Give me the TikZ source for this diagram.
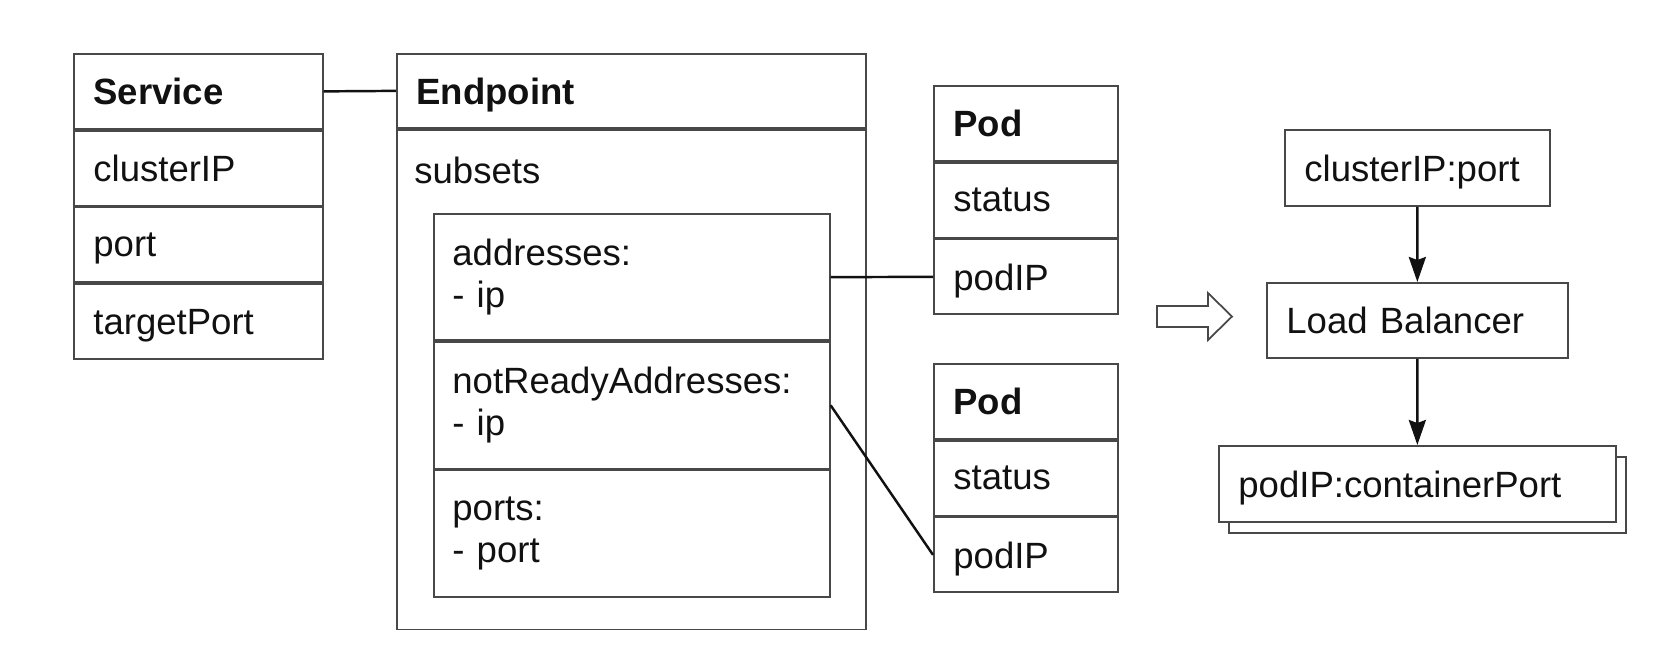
\documentclass[tikz,border=0pt]{standalone}
\usepackage{fontspec}
\setmainfont{Liberation Sans}
\usetikzlibrary{arrows.meta, positioning, shadows}
\definecolor{boxgray}{HTML}{484848}
\definecolor{inkblack}{HTML}{111111}
\newcommand{\boxfont}{\fontsize{20.8}{23.9}\selectfont}

\begin{document}
\begin{tikzpicture}[x=0.02cm, y=-0.02cm,
  >={Stealth[length=5mm, width=3.4mm, inset=0.6mm]},
  box/.style={draw=boxgray, line width=1pt, inner xsep=0.39cm, inner ysep=0pt,
    align=left, font=\boxfont, text=inkblack},
  field/.style={box, text depth=0pt, minimum height=1.5cm},
  title/.style={field, font=\boxfont\bfseries},
  entry/.style={box, inner xsep=0.37cm, text width=7.18cm, minimum height=2.53cm},
  link/.style={inkblack, line width=1.4pt},
  flow/.style={inkblack, line width=1.5pt, ->}]

% Canvas (pixel grid of the reference, y down)
\useasboundingbox (0,0) rectangle (1671,647);

% Service
\node[title, text width=4.2cm, anchor=north west] (svc) at (73,53) {Service};
\node[field, text width=4.2cm, below=0pt of svc] (svcip) {clusterIP};
\node[field, text width=4.2cm, below=0pt of svcip] (svcport) {port};
\node[field, text width=4.2cm, below=0pt of svcport] (svctarget) {targetPort};

% Endpoint
\node[title, text width=8.6cm, minimum height=1.48cm, anchor=north west] (ep) at (396,53) {Endpoint};
\node[box, text width=8.6cm, minimum height=10cm, below=0pt of ep] (epbody) {};
\node[font=\boxfont, text=inkblack, inner sep=0pt, anchor=base west] (subsets)
  at ([shift={(18,55)}]epbody.north west) {subsets};

% Subsets entries
\node[entry, anchor=north west] (addr) at (433,213) {addresses:\\- ip};
\node[entry, below=0pt of addr] (notready) {notReadyAddresses:\\- ip};
\node[entry, below=0pt of notready] (ports) {ports:\\- port};

% Pods
\node[title, text width=2.9cm, anchor=north west] (poda) at (933,85) {Pod};
\node[field, text width=2.9cm, below=0pt of poda] (podastatus) {status};
\node[field, text width=2.9cm, below=0pt of podastatus] (podaip) {podIP};

\node[title, text width=2.9cm, anchor=north west] (podb) at (933,363) {Pod};
\node[field, text width=2.9cm, below=0pt of podb] (podbstatus) {status};
\node[field, text width=2.9cm, below=0pt of podbstatus] (podbip) {podIP};

% Links
\draw[link] (svc.east) -- (ep.west);
\draw[link] (addr.east) -- (podaip.west);
\draw[link] (notready.east) -- (podbip.west);

% Hollow arrow
\draw[boxgray, line width=1pt, fill=white] (1157,306) -- (1208,306) -- (1208,293)
  -- (1232,316.5) -- (1208,340) -- (1208,327) -- (1157,327) -- cycle;

% Load balancing
\node[field, text width=4.52cm, minimum height=1.52cm, anchor=north west] (cip) at (1284,129) {clusterIP:port};
\node[field, text width=5.24cm, anchor=north west] (lb) at (1266,282) {Load Balancer};
\node[field, text width=7.16cm, minimum height=1.52cm, fill=white,
  copy shadow={shadow xshift=0.2cm, shadow yshift=-0.22cm}, anchor=north west]
  (backend) at (1218,445) {podIP:containerPort};

\draw[flow] (cip.south) -- (lb.north);
\draw[flow] (lb.south) -- (backend.north);

\end{tikzpicture}
\end{document}
